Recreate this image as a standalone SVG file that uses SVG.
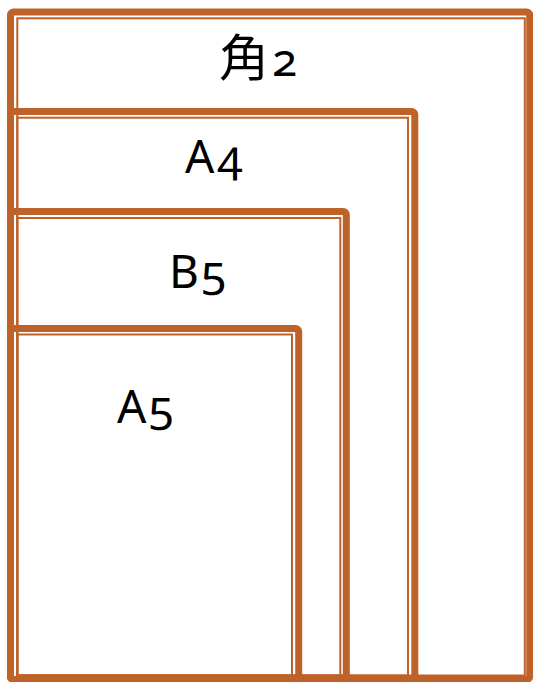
<svg xmlns="http://www.w3.org/2000/svg" width="533" height="682" viewBox="0 0 533 682">
<style>
.thick{fill:none;stroke:#BF6229;stroke-width:7;}
.thin{fill:none;stroke:#BF6229;stroke-width:2;}
.lbl{font-family:"Noto Sans","Open Sans","Noto Sans CJK JP",sans-serif;font-size:46px;fill:#000;font-variant-numeric:oldstyle-nums;font-feature-settings:"onum" 1;}
</style>
<rect width="533" height="682" fill="#fff"/>
<g id="kaku2">
<rect class="thick" x="10.5" y="12" width="519.2" height="667.5" rx="3"/>
<rect class="thin" x="17.3" y="18.3" width="507.5" height="657.2"/>
<text class="lbl" x="219" y="76"><tspan font-size="50">角</tspan><tspan dx="3">2</tspan></text>
</g>
<g id="a4">
<rect class="thick" x="10.5" y="111.5" width="404.3" height="568" rx="3"/>
<rect class="thin" x="17.3" y="117.7" width="390.7" height="557.8"/>
<text class="lbl" x="185" y="173">A<tspan dx="3">4</tspan></text>
</g>
<g id="b5">
<rect class="thick" x="10.5" y="211.5" width="335.8" height="468" rx="3"/>
<rect class="thin" x="17.3" y="218" width="323" height="457.5"/>
<text class="lbl" x="169" y="288">B<tspan dx="2">5</tspan></text>
</g>
<g id="a5">
<rect class="thick" x="10.5" y="328.5" width="288.2" height="351" rx="3"/>
<rect class="thin" x="17.3" y="334.5" width="274.7" height="341"/>
<text class="lbl" x="117" y="423">A<tspan dx="2">5</tspan></text>
</g>
<g id="connectors"/>
</svg>
